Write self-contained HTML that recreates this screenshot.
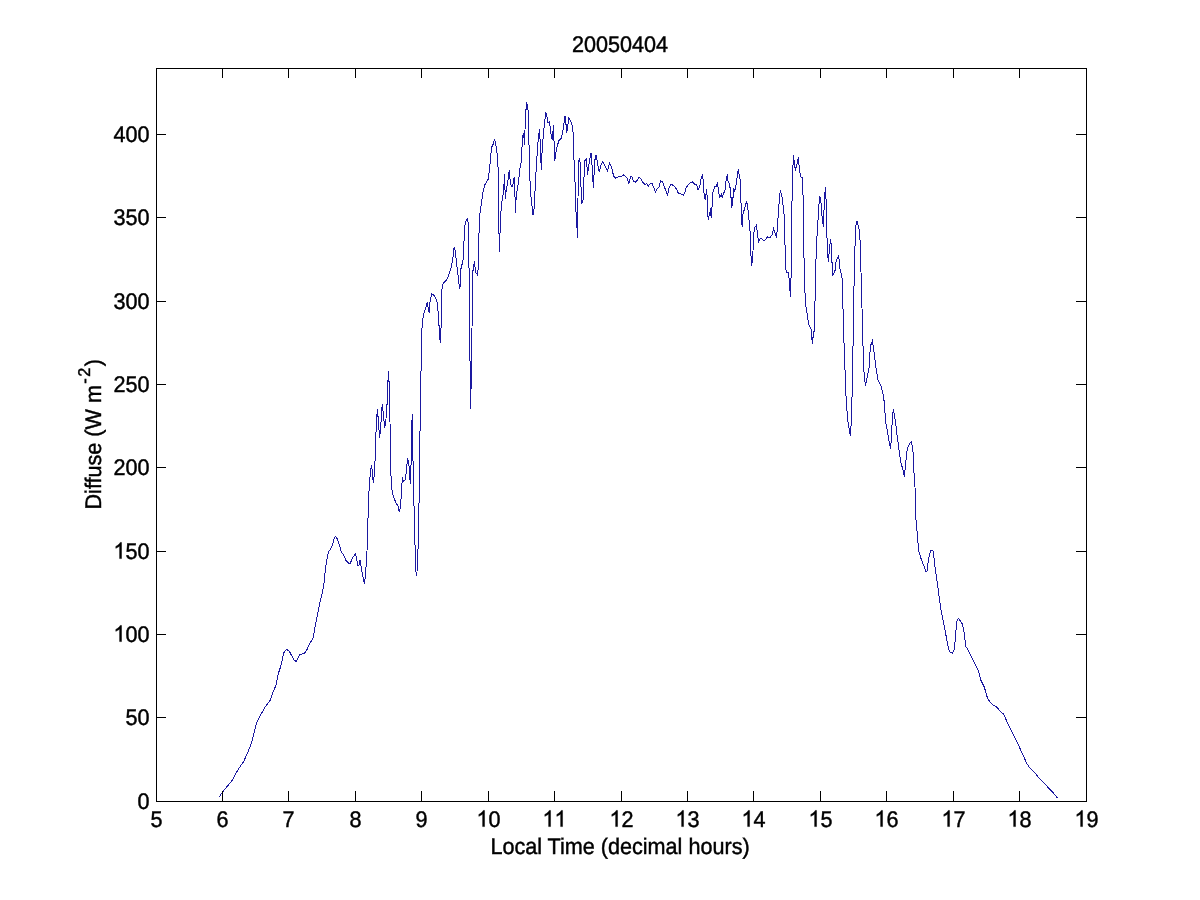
<!DOCTYPE html><html><head><meta charset="utf-8"><style>html,body{margin:0;padding:0;background:#fff;width:1200px;height:900px;overflow:hidden}svg{display:block;will-change:transform}text{font-family:"Liberation Sans",sans-serif;fill:#000;stroke:#000;stroke-width:0.45px;text-rendering:geometricPrecision}</style></head><body>
<svg width="1200" height="900" viewBox="0 0 1200 900">
<rect width="1200" height="900" fill="#fff"/>
<path d="M219.4,796.7 L222.8,791.7 L231.7,781.1 L237.8,770.0 L243.9,761.1 L248.3,751.1 L251.7,742.2 L254.4,731.1 L257.2,721.1 L259.4,717.2 L265.0,707.2 L270.3,700.2 L273.0,692.2 L276.1,685.1 L278.3,673.6 L281.0,665.6 L282.8,656.7 L284.1,652.2 L286.8,649.4 L289.4,651.3 L291.7,655.8 L293.9,659.8 L296.1,661.6 L298.3,657.6 L300.1,654.4 L302.3,654.0 L304.6,653.1 L306.8,650.0 L309.0,645.1 L311.2,641.1 L313.0,638.4 L313.9,633.6 L314.9,627.8 L318.6,609.5 L320.4,599.7 L322.2,593.6 L324.1,582.6 L325.3,570.3 L326.5,561.8 L328.3,552.6 L330.8,548.3 L332.6,544.7 L333.8,539.8 L335.4,536.4 L337.5,539.2 L339.3,544.7 L341.2,551.4 L343.6,555.1 L346.1,560.6 L348.5,563.0 L350.3,563.0 L352.8,557.5 L355.5,553.5 L356.5,558.1 L357.7,565.5 L358.9,566.1 L359.5,561.8 L360.1,560.0 L360.4,564.2 L361.1,566.7 L362.6,575.2 L364.4,583.8 L365.6,574.0 L366.5,559.3 L367.5,542.2 L368.3,504.4 L369.4,483.3 L370.6,471.7 L371.3,465.3 L372.2,470.0 L373.3,483.3 L374.4,473.3 L375.6,448.9 L376.3,420.0 L377.5,409.0 L378.0,417.0 L378.5,416.0 L379.0,430.0 L379.5,438.0 L380.5,430.0 L381.5,414.0 L382.2,404.0 L383.0,411.0 L384.0,421.0 L384.5,427.0 L385.5,425.0 L386.0,419.0 L386.5,405.0 L387.2,404.5 L387.7,385.0 L388.5,371.0 L389.0,381.5 L389.5,382.0 L390.0,422.0 L390.6,468.3 L391.7,487.8 L392.8,494.4 L395.6,502.2 L397.8,505.6 L399.4,512.2 L400.6,505.6 L401.7,487.8 L402.4,477.2 L403.3,481.7 L405.0,480.0 L406.1,473.3 L407.6,458.3 L408.9,463.3 L409.4,474.4 L410.6,484.4 L411.1,461.1 L411.5,426.0 L412.5,414.0 L412.8,451.1 L413.9,500.0 L414.5,530.0 L415.5,560.0 L416.2,576.0 L417.0,572.0 L417.5,550.0 L418.5,548.0 L418.5,506.0 L419.5,500.0 L419.5,446.0 L420.4,420.0 L420.9,379.5 L421.5,336.0 L422.5,320.4 L423.6,314.2 L425.9,307.2 L427.4,301.8 L428.2,308.0 L429.3,313.4 L430.1,300.2 L431.8,293.7 L434.4,295.6 L436.8,300.2 L438.0,311.1 L439.1,326.7 L440.2,343.0 L441.1,326.7 L441.7,295.6 L442.2,285.6 L443.3,283.3 L446.7,280.0 L449.4,273.3 L451.1,267.8 L452.8,258.9 L454.2,246.7 L455.3,251.1 L456.7,264.4 L457.8,273.3 L458.9,282.2 L459.4,288.9 L460.6,284.4 L461.1,265.6 L462.8,263.3 L463.6,251.1 L464.4,232.2 L465.3,222.2 L467.2,218.9 L468.3,223.3 L468.9,257.8 L469.4,300.0 L469.7,348.4 L470.7,388.9 L470.7,409.0 L471.3,370.0 L472.0,330.0 L472.2,300.0 L472.4,278.9 L473.3,266.7 L474.7,260.6 L475.3,272.2 L476.7,273.3 L477.8,275.6 L478.3,262.2 L478.9,237.8 L479.4,217.8 L480.9,207.1 L482.8,193.1 L484.6,185.3 L488.2,179.1 L489.8,166.7 L491.3,149.5 L492.4,144.9 L493.4,144.1 L494.4,138.7 L496.0,145.7 L497.6,157.3 L498.3,174.4 L498.6,221.1 L499.6,252.2 L500.2,225.8 L501.4,204.0 L502.7,197.8 L503.8,188.4 L504.5,174.4 L505.3,199.3 L506.1,191.5 L507.7,182.2 L509.2,170.5 L510.5,183.8 L512.0,186.9 L513.1,183.8 L514.2,177.5 L515.1,199.3 L515.4,213.3 L516.2,196.2 L518.5,182.2 L520.0,168.3 L521.3,161.7 L522.5,136.7 L523.7,133.3 L524.5,145.0 L525.0,130.0 L525.8,111.7 L526.7,102.5 L528.0,110.0 L528.7,131.7 L529.7,175.0 L530.8,195.0 L531.7,203.3 L533.0,215.0 L534.2,208.3 L535.8,175.0 L536.7,161.7 L537.5,148.3 L538.3,138.3 L539.5,129.2 L540.3,145.0 L541.3,170.0 L542.0,153.3 L543.3,135.0 L544.7,121.7 L545.8,112.5 L547.0,116.7 L548.0,123.3 L549.2,121.7 L550.0,125.8 L551.3,136.7 L552.5,140.0 L553.3,125.0 L554.2,145.0 L554.7,160.8 L555.8,153.3 L557.5,145.0 L559.2,140.0 L560.8,139.2 L562.5,133.3 L563.3,128.3 L564.2,121.7 L565.0,115.8 L565.8,121.7 L566.7,133.3 L567.5,128.3 L568.7,118.3 L570.0,119.7 L571.7,123.3 L573.0,131.7 L573.7,153.3 L575.0,181.7 L575.8,208.3 L577.0,228.3 L577.5,237.5 L578.0,198.3 L578.6,160.4 L579.9,158.7 L580.8,181.8 L581.7,204.0 L583.0,200.4 L583.9,180.0 L584.6,161.3 L586.1,158.7 L587.0,166.7 L587.6,174.7 L588.3,168.4 L589.7,159.6 L591.0,152.9 L591.9,163.1 L592.8,178.2 L593.4,188.0 L594.1,173.8 L595.0,159.6 L596.2,154.7 L597.7,164.9 L599.2,172.0 L600.8,165.8 L602.6,161.8 L604.8,165.8 L607.4,170.7 L609.7,163.1 L611.4,166.7 L613.7,176.4 L615.9,178.2 L618.6,176.9 L621.2,176.4 L623.9,174.7 L626.1,176.9 L627.4,178.2 L628.8,184.0 L630.6,176.4 L631.8,176.9 L633.5,181.0 L635.3,182.2 L637.6,179.8 L638.8,177.5 L640.5,178.1 L642.5,182.2 L645.2,184.5 L646.6,183.3 L648.4,186.0 L650.1,183.9 L652.2,183.6 L653.9,188.0 L655.4,192.1 L656.8,189.2 L659.2,186.8 L660.0,183.3 L660.9,180.7 L662.7,182.2 L664.4,186.8 L666.2,191.5 L667.6,195.0 L669.1,188.0 L670.3,185.1 L672.0,184.5 L674.3,186.3 L676.7,189.2 L678.4,193.5 L680.8,193.8 L683.4,195.3 L684.8,192.7 L686.0,188.0 L688.9,183.9 L692.4,181.6 L694.8,184.5 L696.6,184.9 L698.1,189.9 L699.7,187.2 L700.8,180.2 L702.4,174.4 L703.2,181.0 L703.9,192.7 L705.1,199.7 L705.9,195.0 L706.5,188.8 L707.1,196.5 L707.4,211.3 L708.4,220.3 L709.4,212.9 L710.2,214.4 L710.9,208.2 L711.3,217.5 L712.1,205.9 L712.7,193.4 L713.7,189.5 L714.8,186.4 L716.4,186.4 L717.6,182.6 L718.3,189.5 L719.5,197.3 L720.7,196.5 L721.4,194.2 L722.2,197.3 L723.4,193.4 L724.9,191.1 L725.7,183.3 L726.5,177.5 L727.3,175.6 L728.0,181.0 L729.2,183.3 L730.4,189.5 L731.2,199.7 L731.5,208.2 L732.3,205.1 L733.1,196.5 L733.7,188.0 L734.7,191.1 L735.4,189.5 L736.2,184.1 L737.4,175.6 L738.3,168.6 L738.9,173.6 L739.7,177.1 L740.5,181.0 L740.9,198.9 L741.5,220.7 L742.3,226.9 L742.8,214.4 L744.0,210.5 L745.5,205.9 L746.2,201.5 L747.2,204.0 L748.0,210.0 L749.0,220.0 L750.0,231.0 L750.8,252.0 L751.5,266.0 L752.2,262.0 L753.0,251.0 L753.5,236.0 L754.5,228.0 L756.2,225.5 L757.0,230.0 L757.8,236.0 L758.5,242.0 L759.5,240.0 L761.0,238.0 L763.0,240.0 L764.5,240.5 L766.0,239.0 L767.5,237.0 L769.0,238.0 L770.5,237.0 L772.0,235.0 L773.5,228.5 L775.0,233.0 L776.5,237.5 L777.0,232.0 L777.8,221.0 L778.8,208.0 L779.5,196.0 L780.4,190.5 L781.5,195.0 L782.5,199.0 L783.5,210.0 L784.5,217.0 L785.0,245.0 L786.1,272.3 L788.0,272.3 L789.3,279.9 L790.4,296.9 L791.2,272.3 L791.7,215.6 L792.7,170.2 L793.6,155.1 L794.6,166.5 L795.5,169.3 L797.4,162.7 L798.4,156.6 L799.3,168.4 L800.6,176.9 L802.1,177.8 L803.1,196.7 L803.7,243.3 L804.6,286.0 L805.7,304.7 L807.7,316.7 L808.3,323.3 L811.0,328.7 L812.1,340.7 L812.3,344.0 L813.4,334.0 L814.7,328.7 L815.0,302.0 L815.7,268.7 L816.6,242.0 L818.2,217.5 L819.5,196.7 L820.7,198.6 L822.0,215.6 L823.3,227.0 L824.4,200.5 L825.4,187.3 L826.1,201.1 L826.7,227.8 L827.4,250.0 L828.3,262.2 L829.2,252.2 L830.0,244.4 L830.6,239.4 L831.4,245.6 L831.9,261.1 L832.6,270.0 L833.0,275.3 L834.3,272.7 L835.2,270.0 L836.1,261.1 L837.8,257.8 L838.6,256.1 L839.4,262.2 L840.1,270.0 L841.9,275.3 L842.7,296.7 L843.7,334.0 L845.0,370.0 L846.0,396.0 L847.6,420.0 L850.4,436.0 L851.6,416.0 L852.4,380.0 L853.6,314.0 L854.4,260.0 L854.8,252.2 L855.6,226.7 L857.0,221.1 L858.3,225.6 L859.4,230.6 L860.3,244.4 L861.0,272.0 L862.0,308.0 L863.0,346.0 L864.0,372.0 L865.4,386.0 L867.0,378.0 L869.0,368.0 L870.4,346.0 L872.4,341.0 L874.0,352.0 L876.0,368.0 L878.0,380.0 L881.0,386.0 L883.6,396.0 L884.7,407.8 L885.6,422.2 L887.8,433.3 L889.4,443.3 L890.6,448.9 L891.7,433.3 L892.4,415.6 L893.6,409.4 L894.4,415.6 L895.6,422.2 L896.7,433.3 L898.3,444.4 L899.8,455.6 L901.1,463.3 L903.3,471.1 L904.4,476.7 L905.8,462.2 L906.7,452.2 L907.8,447.8 L909.4,443.9 L911.3,441.7 L912.4,446.7 L913.3,454.4 L913.9,471.1 L915.0,486.7 L915.5,514.4 L916.7,526.7 L917.9,541.3 L918.8,551.1 L921.0,558.5 L923.4,564.6 L925.9,571.9 L927.1,570.7 L928.3,560.9 L929.6,553.6 L931.0,550.5 L933.0,550.5 L933.8,556.0 L935.1,568.2 L936.3,575.6 L937.5,584.1 L938.7,593.9 L939.5,600.0 L941.0,610.0 L943.0,620.0 L945.0,630.0 L947.0,641.0 L949.0,650.0 L950.5,652.5 L952.5,653.2 L954.0,650.0 L955.0,642.0 L956.0,630.0 L956.5,622.0 L958.5,618.5 L961.0,622.0 L962.5,624.0 L964.0,632.0 L965.0,640.0 L966.0,647.0 L967.0,648.0 L969.5,653.0 L972.0,658.0 L975.0,664.0 L977.5,669.0 L979.0,673.0 L980.8,680.1 L984.4,687.3 L987.3,697.5 L990.2,702.5 L993.8,705.4 L997.4,707.6 L1000.0,711.1 L1003.9,714.4 L1006.7,721.1 L1011.1,730.0 L1016.7,741.1 L1022.2,753.3 L1026.7,763.3 L1030.0,768.3 L1034.4,772.2 L1038.9,777.8 L1043.9,782.8 L1049.4,788.9 L1053.3,792.8 L1057.2,797.8" fill="none" stroke="#1a18a0" stroke-width="1" stroke-linejoin="miter" shape-rendering="crispEdges"/>
<g stroke="#000" stroke-width="1" shape-rendering="crispEdges" fill="none">
<rect x="156.5" y="68.5" width="930" height="733"/>
<path d="M156.5,801 V791 M156.5,68 V78 M222.5,801 V791 M222.5,68 V78 M288.5,801 V791 M288.5,68 V78 M355.5,801 V791 M355.5,68 V78 M421.5,801 V791 M421.5,68 V78 M488.5,801 V791 M488.5,68 V78 M554.5,801 V791 M554.5,68 V78 M621.5,801 V791 M621.5,68 V78 M687.5,801 V791 M687.5,68 V78 M753.5,801 V791 M753.5,68 V78 M820.5,801 V791 M820.5,68 V78 M886.5,801 V791 M886.5,68 V78 M953.5,801 V791 M953.5,68 V78 M1019.5,801 V791 M1019.5,68 V78 M1086.5,801 V791 M1086.5,68 V78 M156,801.5 H166 M1086,801.5 H1076 M156,717.5 H166 M1086,717.5 H1076 M156,634.5 H166 M1086,634.5 H1076 M156,551.5 H166 M1086,551.5 H1076 M156,467.5 H166 M1086,467.5 H1076 M156,384.5 H166 M1086,384.5 H1076 M156,301.5 H166 M1086,301.5 H1076 M156,217.5 H166 M1086,217.5 H1076 M156,134.5 H166 M1086,134.5 H1076"/>
</g>
<defs><path id="one" d="M763,0L583,0L583,1147Q518,1085 412,1023Q306,961 223,930L223,1104Q372,1174 484,1274Q596,1374 643,1466L763,1466Z" fill="#000" stroke="#000" stroke-width="43"/></defs>
<text transform="translate(156.5,826.6) scale(0.9558,1)" font-size="22.6" text-anchor="middle">5</text>
<text transform="translate(222.5,826.6) scale(0.9558,1)" font-size="22.6" text-anchor="middle">6</text>
<text transform="translate(288.5,826.6) scale(0.9558,1)" font-size="22.6" text-anchor="middle">7</text>
<text transform="translate(355.5,826.6) scale(0.9558,1)" font-size="22.6" text-anchor="middle">8</text>
<text transform="translate(421.5,826.6) scale(0.9558,1)" font-size="22.6" text-anchor="middle">9</text>
<text transform="translate(488.5,826.6) scale(0.9558,1)" font-size="22.6" text-anchor="middle"> 0</text><use href="#one" transform="translate(476.49,826.6) scale(0.010547,-0.011035)"/>
<text transform="translate(554.5,826.6) scale(0.9558,1)" font-size="22.6" text-anchor="middle">  </text><use href="#one" transform="translate(542.49,826.6) scale(0.010547,-0.011035)"/><use href="#one" transform="translate(554.50,826.6) scale(0.010547,-0.011035)"/>
<text transform="translate(621.5,826.6) scale(0.9558,1)" font-size="22.6" text-anchor="middle"> 2</text><use href="#one" transform="translate(609.49,826.6) scale(0.010547,-0.011035)"/>
<text transform="translate(687.5,826.6) scale(0.9558,1)" font-size="22.6" text-anchor="middle"> 3</text><use href="#one" transform="translate(675.49,826.6) scale(0.010547,-0.011035)"/>
<text transform="translate(753.5,826.6) scale(0.9558,1)" font-size="22.6" text-anchor="middle"> 4</text><use href="#one" transform="translate(741.49,826.6) scale(0.010547,-0.011035)"/>
<text transform="translate(820.5,826.6) scale(0.9558,1)" font-size="22.6" text-anchor="middle"> 5</text><use href="#one" transform="translate(808.49,826.6) scale(0.010547,-0.011035)"/>
<text transform="translate(886.5,826.6) scale(0.9558,1)" font-size="22.6" text-anchor="middle"> 6</text><use href="#one" transform="translate(874.49,826.6) scale(0.010547,-0.011035)"/>
<text transform="translate(953.5,826.6) scale(0.9558,1)" font-size="22.6" text-anchor="middle"> 7</text><use href="#one" transform="translate(941.49,826.6) scale(0.010547,-0.011035)"/>
<text transform="translate(1019.5,826.6) scale(0.9558,1)" font-size="22.6" text-anchor="middle"> 8</text><use href="#one" transform="translate(1007.49,826.6) scale(0.010547,-0.011035)"/>
<text transform="translate(1086.5,826.6) scale(0.9558,1)" font-size="22.6" text-anchor="middle"> 9</text><use href="#one" transform="translate(1074.49,826.6) scale(0.010547,-0.011035)"/>
<text transform="translate(149.5,808.6) scale(0.9558,1)" font-size="22.6" text-anchor="end">0</text>
<text transform="translate(149.5,724.6) scale(0.9558,1)" font-size="22.6" text-anchor="end">50</text>
<text transform="translate(149.5,641.6) scale(0.9558,1)" font-size="22.6" text-anchor="end"> 00</text><use href="#one" transform="translate(113.46,641.6) scale(0.010547,-0.011035)"/>
<text transform="translate(149.5,558.6) scale(0.9558,1)" font-size="22.6" text-anchor="end"> 50</text><use href="#one" transform="translate(113.46,558.6) scale(0.010547,-0.011035)"/>
<text transform="translate(149.5,474.6) scale(0.9558,1)" font-size="22.6" text-anchor="end">200</text>
<text transform="translate(149.5,391.6) scale(0.9558,1)" font-size="22.6" text-anchor="end">250</text>
<text transform="translate(149.5,308.6) scale(0.9558,1)" font-size="22.6" text-anchor="end">300</text>
<text transform="translate(149.5,224.6) scale(0.9558,1)" font-size="22.6" text-anchor="end">350</text>
<text transform="translate(149.5,141.6) scale(0.9558,1)" font-size="22.6" text-anchor="end">400</text>
<text transform="translate(620,51.6) scale(0.9558,1)" font-size="22.6" text-anchor="middle">20050404</text>
<text transform="translate(620,853.6) scale(0.9558,1)" font-size="22.6" text-anchor="middle">Local Time (decimal hours)</text>
<text transform="translate(100.8,509.5) rotate(-90) scale(0.9558,1)" font-size="22.6">Diffuse (W m<tspan font-size="17" dx="1.5" dy="-11">-</tspan><tspan font-size="17" dx="1.5">2</tspan><tspan dx="1.5" dy="11">)</tspan></text>
</svg></body></html>
